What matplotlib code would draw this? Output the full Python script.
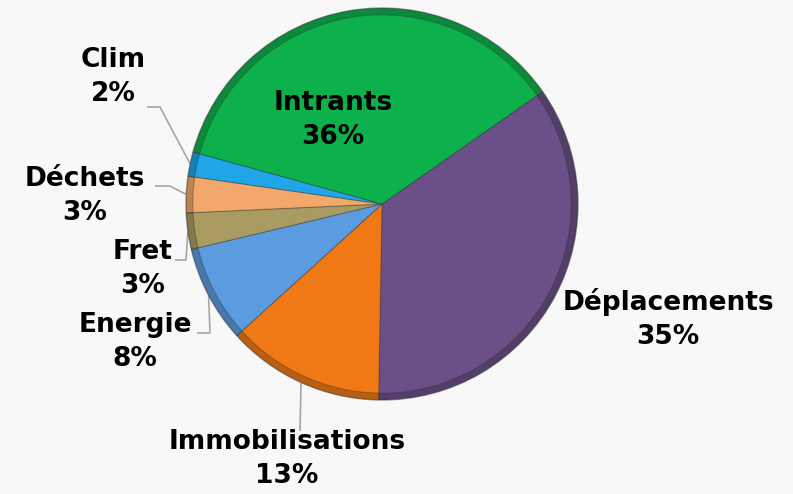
import numpy as np
import matplotlib.pyplot as plt
from matplotlib.colors import to_rgb

# Données (ordre dans le sens horaire, à partir de Déplacements)
categories = ["Déplacements", "Immobilisations", "Energie", "Fret", "Déchets", "Clim", "Intrants"]
values = [35, 13, 8, 3, 3, 2, 36]
colors = ["#6a4f88", "#f07815", "#5b9be0", "#a99b62", "#f2a86a", "#1ea6e8", "#0db14b"]

W, H = 793, 494
cx, cy, R = 382, 290, 196
start = 35

fig = plt.figure(figsize=(W / 100, H / 100), dpi=100)
fig.patch.set_facecolor("#f8f8f8")
ax = fig.add_axes([0, 0, 1, 1])


def shade(c, f):
    r, g, b = to_rgb(c)
    return (r * f, g * f, b * f)


# bord foncé + intérieur (effet biseau)
wedges_out, _ = ax.pie(values, colors=[shade(c, 0.78) for c in colors], startangle=start,
                       counterclock=False, center=(cx, cy), radius=R, frame=True,
                       wedgeprops=dict(edgecolor=(0.2, 0.2, 0.2, 0.5), linewidth=1.0))
wedges_in, _ = ax.pie(values, colors=colors, startangle=start,
                      counterclock=False, center=(cx, cy), radius=R * 0.965, frame=True,
                      wedgeprops=dict(edgecolor=(0.2, 0.2, 0.2, 0.35), linewidth=0.8))
ax.set_xlim(0, W)
ax.set_ylim(0, H)
ax.set_aspect("equal")
ax.axis("off")

# positions des étiquettes (centre du bloc, pixels depuis le haut)
label_pos = {
    "Intrants": (333, 120),
    "Déplacements": (668, 319),
    "Immobilisations": (287, 459),
    "Energie": (135, 342),
    "Fret": (143, 269),
    "Déchets": (85, 196),
    "Clim": (113, 77),
}
# lignes de rappel : fin horizontale et coude
leaders = {
    "Clim": [(147, 107), (160, 107)],
    "Déchets": [(155, 186), (170, 186)],
    "Fret": [(175, 260), (186, 260)],
    "Energie": [(197, 333), (210, 333)],
    "Immobilisations": [(300, 431)],
}

total = sum(values)
for name, v, w in zip(categories, values, wedges_out):
    pct = "{:.0f}%".format(100 * v / total)
    x, y = label_pos[name]
    ax.text(x, H - y, name + "\n" + pct, ha="center", va="center", fontsize=19,
            fontweight="bold", linespacing=1.4, color="black", family="DejaVu Sans")
    if name in leaders:
        mid = np.deg2rad((w.theta1 + w.theta2) / 2)
        ex, ey = cx + R * np.cos(mid), cy + R * np.sin(mid)
        pts = [(px, H - py) for px, py in leaders[name]] + [(ex, ey)]
        ax.plot([p[0] for p in pts], [p[1] for p in pts], color="#a6a6a6", lw=1.2,
                solid_capstyle="butt", zorder=0.5)

fig.savefig("out.png", dpi=100, facecolor=fig.get_facecolor())
